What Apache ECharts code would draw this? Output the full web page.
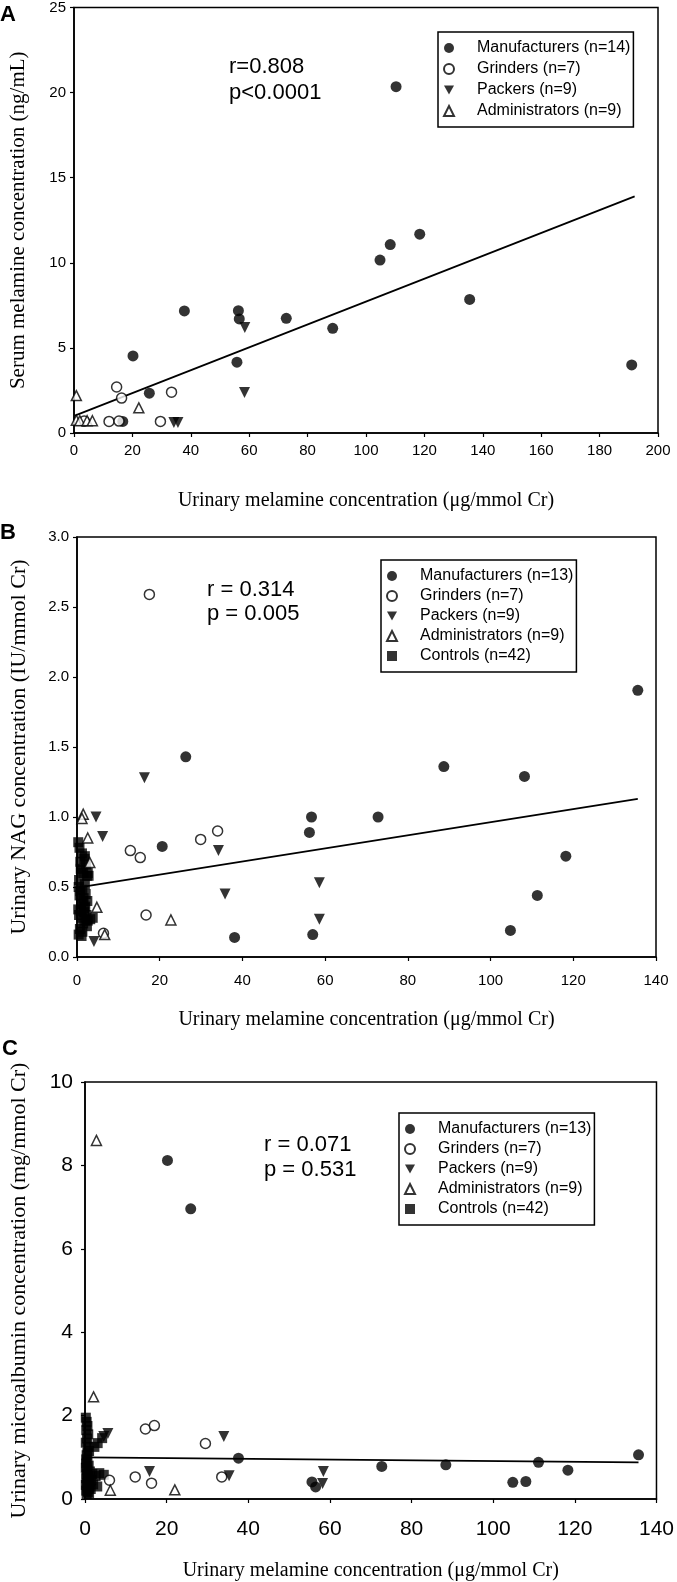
<!DOCTYPE html>
<html>
<head>
<meta charset="utf-8">
<script src="https://cdn.jsdelivr.net/npm/echarts@6/dist/echarts.min.js"></script>
<style>
  html, body { margin: 0; padding: 0; background: #fff; }
  #chart { width: 677px; height: 1582px; }
</style>
</head>
<body>
<div id="chart"></div>
<script>
// ---- panel A: serum melamine vs urinary melamine ----
const aManuf = [[110.3, 20.35], [104.8, 10.16], [108.3, 11.07], [118.4, 11.68], [135.5, 7.85], [191, 4.0], [37.8, 7.17],
  [56.3, 7.19], [56.6, 6.70], [72.7, 6.74], [88.6, 6.15], [55.8, 4.16], [20.2, 4.53], [25.8, 2.34], [16.7, 0.68]];
const aGrind = [[14.6, 2.70], [16.3, 2.05], [33.4, 2.40], [12.0, 0.68], [29.6, 0.68], [3.5, 0.70], [15.4, 0.70]];
const aPack = [[58.5, 6.20], [58.4, 2.38], [34.2, 0.62], [35.6, 0.62]];
const aAdmin = [[0.8, 2.20], [0.8, 0.75], [2.0, 0.72], [4.5, 0.72], [6.3, 0.72], [22.2, 1.48]];
const aFit = [[0.3, 1.02], [192, 13.9]];

// ---- panel B: NAG vs urinary melamine ----
const bManuf = [[135.6, 1.905], [26.3, 1.43], [88.7, 1.36], [108.2, 1.29], [56.7, 1.00], [56.2, 0.89], [72.8, 1.00],
  [20.6, 0.79], [118.2, 0.72], [111.3, 0.44], [104.8, 0.19], [38.1, 0.14], [57.0, 0.16]];
const bGrind = [[17.5, 2.59], [12.9, 0.76], [15.3, 0.71], [29.9, 0.84], [34.0, 0.90], [16.7, 0.30], [6.4, 0.17]];
const bPack = [[16.3, 1.28], [4.6, 1.00], [6.2, 0.86], [34.2, 0.76], [35.8, 0.45], [58.6, 0.53], [58.6, 0.27], [4.1, 0.11]];
const bAdmin = [[1.5, 1.02], [1.2, 0.99], [2.6, 0.85], [3.1, 0.675], [4.8, 0.355], [6.7, 0.16], [22.7, 0.265]];
const bCtrlX = [0.3, 0.6, 1.2, 1.8, 2.2, 0.9, 1.5, 2.4, 1.1, 0.5, 1.9, 2.6, 0.4, 1.3, 2.1, 0.8, 1.6, 2.5, 0.6, 1.0, 2.0,
  1.4, 0.3, 1.7, 2.3, 0.9, 2.8, 1.2, 2.0, 0.5, 1.5, 2.4, 1.8, 0.7, 1.3, 3.8, 0.4, 1.1, 2.6, 1.9, 0.8, 3.2];
const bCtrlY = [0.82, 0.78, 0.74, 0.70, 0.66, 0.63, 0.60, 0.58, 0.62, 0.55, 0.52, 0.60, 0.50, 0.48, 0.45, 0.47, 0.42, 0.40,
  0.44, 0.38, 0.36, 0.40, 0.34, 0.32, 0.30, 0.33, 0.58, 0.28, 0.26, 0.30, 0.24, 0.22, 0.35, 0.20, 0.18, 0.28, 0.16, 0.15,
  0.26, 0.72, 0.68, 0.27];
const bFit = [[0.5, 0.498], [135.6, 1.13]];

// ---- panel C: microalbumin vs urinary melamine ----
const cManuf = [[20.2, 8.12], [25.9, 6.96], [37.6, 0.98], [72.7, 0.78], [88.4, 0.82], [111.1, 0.88], [135.6, 1.06],
  [118.3, 0.69], [104.8, 0.40], [108.0, 0.42], [55.6, 0.41], [56.5, 0.29]];
const cGrind = [[14.8, 1.68], [17.0, 1.76], [29.5, 1.33], [16.3, 0.38], [12.3, 0.53], [33.5, 0.53], [6.0, 0.45]];
const cPack = [[34.0, 1.50], [5.6, 1.57], [58.4, 0.66], [58.2, 0.37], [15.8, 0.66], [35.3, 0.56], [4.6, 1.50]];
const cAdmin = [[2.8, 8.60], [2.1, 2.45], [6.2, 0.21], [22.0, 0.22]];
const cCtrlX = [0.2, 0.4, 0.6, 0.3, 0.8, 0.5, 0.2, 0.7, 1.0, 0.4, 0.3, 0.6, 0.9, 0.2, 0.5, 1.2, 0.4, 0.7, 0.3, 0.8, 1.1,
  0.5, 0.2, 0.6, 0.9, 1.4, 0.3, 0.7, 1.0, 0.4, 2.3, 3.1, 4.2, 1.8, 2.6, 3.5, 4.6, 2.0, 3.0, 1.5, 0.6, 0.3];
const cCtrlY = [1.95, 1.85, 1.75, 1.65, 1.55, 1.45, 1.35, 1.25, 1.15, 1.05, 0.95, 0.88, 0.80, 0.75, 0.70, 0.66, 0.60, 0.55,
  0.50, 0.46, 0.42, 0.38, 0.34, 0.30, 0.27, 0.24, 0.20, 0.17, 0.14, 0.12, 1.25, 1.34, 1.46, 0.60, 0.55, 0.62, 0.58, 0.35,
  0.30, 0.45, 1.10, 0.85];
const cFit = [[0.3, 1.0], [135.6, 0.88]];

const namesA = ['Manufacturers (n=14)', 'Grinders (n=7)', 'Packers (n=9)', 'Administrators (n=9)'];
const namesBC = ['Manufacturers (n=13)', 'Grinders (n=7)', 'Packers (n=9)', 'Administrators (n=9)', 'Controls (n=42)'];
const xTitle = 'Urinary melamine concentration (\u03bcg/mmol Cr)';

const SANS = "'Liberation Sans', Arial, sans-serif";
const SERIF = "'Liberation Serif', 'Times New Roman', serif";
const DOWN_TRI = 'path://M0,0L10,0L5,9Z'; // legend icon for packers

function zip(xs, ys) {
  return xs.map((x, i) => [x, ys[i]]);
}

// marker styles per group
const styles = {
  manuf: { symbol: 'circle', symbolSize: 11, itemStyle: { color: '#000' } },
  grind: { symbol: 'circle', symbolSize: 10, itemStyle: { color: '#fff', borderColor: '#000', borderWidth: 1.5 } },
  pack: { symbol: 'triangle', symbolSize: 11, symbolRotate: 180, itemStyle: { color: '#000' } },
  admin: { symbol: 'triangle', symbolSize: 10, itemStyle: { color: '#fff', borderColor: '#000', borderWidth: 1.5 } },
  ctrl: { symbol: 'rect', symbolSize: 10, itemStyle: { color: '#000' } },
};

function scatter(name, data, kind, idx) {
  return Object.assign({
    name: name,
    type: 'scatter',
    xAxisIndex: idx,
    yAxisIndex: idx,
    data: data,
    z: 3,
  }, styles[kind]);
}

function fitLine(data, idx) {
  return {
    type: 'line',
    xAxisIndex: idx,
    yAxisIndex: idx,
    data: data,
    symbol: 'none',
    lineStyle: { color: '#000', width: 1.8 },
    z: 2,
    silent: true,
  };
}

function xAxis(idx, max, labelSize, labelMargin, nameGap) {
  return {
    gridIndex: idx, type: 'value', min: 0, max: max, interval: 20,
    name: xTitle, nameLocation: 'middle', nameGap: nameGap,
    nameTextStyle: { fontFamily: SERIF, fontSize: 20, color: '#000' },
    axisLine: { lineStyle: { color: '#000', width: 1.6 } },
    axisTick: { show: true, length: 4, lineStyle: { color: '#000', width: 1.2 } },
    axisLabel: { color: '#000', fontFamily: SANS, fontSize: labelSize, margin: labelMargin },
    splitLine: { show: false },
  };
}

function yAxis(idx, max, step, title, titleSize, labelSize, labelMargin, nameGap, fmt) {
  return {
    gridIndex: idx, type: 'value', min: 0, max: max, interval: step,
    name: title, nameLocation: 'middle', nameGap: nameGap,
    nameTextStyle: { fontFamily: SERIF, fontSize: titleSize, color: '#000' },
    axisLine: { lineStyle: { color: '#000', width: 1.6 } },
    axisTick: { show: true, length: 4, lineStyle: { color: '#000', width: 1.2 } },
    axisLabel: { color: '#000', fontFamily: SANS, fontSize: labelSize, margin: labelMargin, formatter: fmt },
    splitLine: { show: false },
  };
}

function legend(names, left, top, gap) {
  return {
    data: names.map(n => n.indexOf('Packers') === 0 ? { name: n, icon: DOWN_TRI } : n),
    orient: 'vertical', left: left, top: top,
    borderColor: '#000', borderWidth: 1.5, padding: [8, 3, 8, 5],
    itemWidth: 10, itemHeight: 10, itemGap: gap,
    formatter: n => '{t|' + n + '}',
    textStyle: { rich: { t: { fontFamily: SANS, fontSize: 16, color: '#000', lineHeight: 16, padding: [0, 0, 0, 18] } } },
    selectedMode: false,
  };
}

function text(str, x, y, size, weight) {
  return {
    type: 'text', left: x, top: y,
    style: { text: str, fontFamily: SANS, fontSize: size, fontWeight: weight || 'normal', fill: '#000' },
  };
}

const option = {
  animation: false,
  backgroundColor: '#fff',
  grid: [
    { left: 67, right: 19, top: 7, height: 426, show: true, borderColor: '#000', borderWidth: 1.5 },
    { left: 69, right: 21, top: 537, height: 420, show: true, borderColor: '#000', borderWidth: 1.5 },
    { left: 77, right: 19, top: 1082, height: 417, show: true, borderColor: '#000', borderWidth: 1.5 },
  ],
  xAxis: [
    xAxis(0, 200, 15, 10, 58),
    xAxis(1, 140, 15, 16, 53),
    xAxis(2, 140, 21, 20, 62),
  ],
  yAxis: [
    yAxis(0, 25, 5, 'Serum melamine concentration (ng/mL)', 21, 15, 8, 45),
    yAxis(1, 3, 0.5, 'Urinary NAG concentration (IU/mmol Cr)', 22, 15, 8, 47, v => v.toFixed(1)),
    yAxis(2, 10, 2, 'Urinary microalbumin concentration (mg/mmol Cr)', 22, 21, 12, 55),
  ],
  legend: [
    legend(namesA, 438, 32, 5),
    legend(namesBC, 381, 560, 4),
    legend(namesBC, 399, 1113, 4),
  ],
  graphic: [
    text('A', 0, 4, 22, 'bold'),
    text('B', 0, 522, 22, 'bold'),
    text('C', 2, 1038, 22, 'bold'),
    text('r=0.808', 229, 56, 22),
    text('p<0.0001', 229, 82, 22),
    text('r = 0.314', 207, 579, 22),
    text('p = 0.005', 207, 603, 22),
    text('r = 0.071', 264, 1134, 22),
    text('p = 0.531', 264, 1159, 22),
  ],
  series: [
    fitLine(aFit, 0),
    scatter(namesA[0], aManuf, 'manuf', 0),
    scatter(namesA[1], aGrind, 'grind', 0),
    scatter(namesA[2], aPack, 'pack', 0),
    scatter(namesA[3], aAdmin, 'admin', 0),

    fitLine(bFit, 1),
    scatter(namesBC[4], zip(bCtrlX, bCtrlY), 'ctrl', 1),
    scatter(namesBC[0], bManuf, 'manuf', 1),
    scatter(namesBC[1], bGrind, 'grind', 1),
    scatter(namesBC[2], bPack, 'pack', 1),
    scatter(namesBC[3], bAdmin, 'admin', 1),

    fitLine(cFit, 2),
    scatter(namesBC[4], zip(cCtrlX, cCtrlY), 'ctrl', 2),
    scatter(namesBC[0], cManuf, 'manuf', 2),
    scatter(namesBC[1], cGrind, 'grind', 2),
    scatter(namesBC[2], cPack, 'pack', 2),
    scatter(namesBC[3], cAdmin, 'admin', 2),
  ],
};

const myChart = echarts.init(document.getElementById('chart'), null, { renderer: 'canvas' });
myChart.setOption(option);
</script>
</body>
</html>
